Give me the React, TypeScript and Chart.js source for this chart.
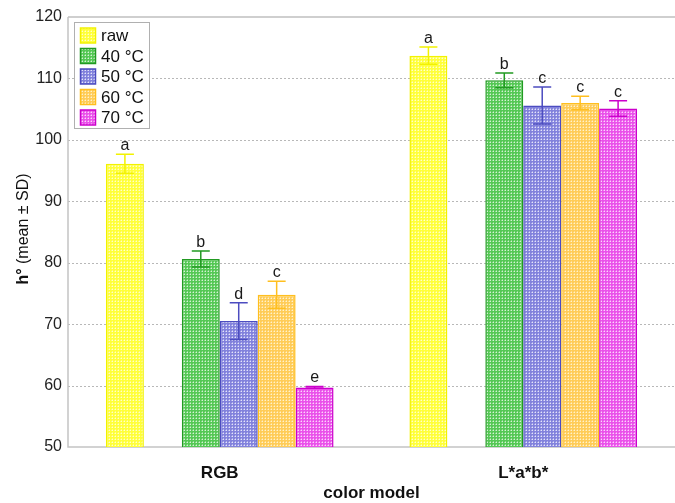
import React, { useEffect, useRef } from "react";
import { Chart, registerables } from "chart.js";

Chart.register(...registerables);

const categories = ["RGB", "L*a*b*"];
const seriesNames = ["raw", "40 °C", "50 °C", "60 °C", "70 °C"];
const rawValues = [96.1, 113.7];
const c40Values = [80.6, 109.7];
const c50Values = [70.5, 105.6];
const c60Values = [74.8, 106.0];
const c70Values = [59.7, 105.1];
const rawSD = [1.55, 1.4];
const c40SD = [1.3, 1.2];
const c50SD = [3.0, 3.0];
const c60SD = [2.2, 1.1];
const c70SD = [0.15, 1.25];
const rawLetters = ["a", "a"];
const c40Letters = ["b", "b"];
const c50Letters = ["d", "c"];
const c60Letters = ["c", "c"];
const c70Letters = ["e", "c"];
const yTicks = [50, 60, 70, 80, 90, 100, 110, 120];

const FONT = "'Liberation Sans', Arial, sans-serif";

const styles = [
  { border: "#f2f200", base: "#ffff3a", light: "#ffffc8" },
  { border: "#229a22", base: "#55c855", light: "#d4f2d4" },
  { border: "#4c4cc0", base: "#8282dc", light: "#e4e4fa" },
  { border: "#ffbf1f", base: "#ffcc58", light: "#fff2cc" },
  { border: "#cc00cc", base: "#ea52ea", light: "#fcd4fc" },
];

function makePattern(base: string, light: string) {
  const c = document.createElement("canvas");
  c.width = 3;
  c.height = 3;
  const x = c.getContext("2d")!;
  x.fillStyle = base;
  x.fillRect(0, 0, 3, 3);
  x.fillStyle = light;
  x.fillRect(1, 1, 1, 1);
  x.globalAlpha = 0.45;
  x.fillRect(0, 1, 1, 1);
  x.fillRect(1, 0, 1, 1);
  const ctx = document.createElement("canvas").getContext("2d")!;
  return ctx.createPattern(c, "repeat")!;
}

export default function App() {
  const ref = useRef<HTMLCanvasElement>(null);
  useEffect(() => {
    document.body.style.margin = "0";
    const values = [rawValues, c40Values, c50Values, c60Values, c70Values];
    const sds = [rawSD, c40SD, c50SD, c60SD, c70SD];
    const letters = [rawLetters, c40Letters, c50Letters, c60Letters, c70Letters];
    const patterns = styles.map((s) => makePattern(s.base, s.light));

    const datasets: any[] = [];
    const seriesIndex: number[] = [];
    seriesNames.forEach((name, i) => {
      datasets.push({
        label: name,
        data: values[i],
        backgroundColor: patterns[i],
        borderColor: styles[i].border,
        borderWidth: 1.5,
        borderSkipped: "bottom",
      });
      seriesIndex.push(datasets.length - 1);
      if (i === 0) {
        datasets.push({ label: "", data: categories.map(() => null), backgroundColor: "transparent" });
      }
    });

    const decorPlugin = {
      id: "decor",
      beforeDatasetsDraw(chart: any) {
        const { ctx, chartArea, scales } = chart;
        const y = scales.y;
        ctx.save();
        ctx.strokeStyle = "#b8b8b8";
        ctx.lineWidth = 1;
        ctx.setLineDash([2, 2]);
        yTicks.forEach((v) => {
          if (v === 50 || v === 120) return;
          const py = Math.round(y.getPixelForValue(v)) + 0.5;
          ctx.beginPath();
          ctx.moveTo(chartArea.left, py);
          ctx.lineTo(chartArea.right, py);
          ctx.stroke();
        });
        ctx.setLineDash([]);
        ctx.strokeStyle = "#cfcfcf";
        ctx.lineWidth = 2;
        const ty = y.getPixelForValue(120);
        ctx.beginPath();
        ctx.moveTo(chartArea.left, ty);
        ctx.lineTo(chartArea.right, ty);
        ctx.stroke();
        ctx.strokeStyle = "#c4c4c4";
        ctx.lineWidth = 1.5;
        ctx.beginPath();
        ctx.moveTo(chartArea.left, ty);
        ctx.lineTo(chartArea.left, chartArea.bottom);
        ctx.lineTo(chartArea.right, chartArea.bottom);
        ctx.stroke();
        ctx.restore();
      },
      afterDatasetsDraw(chart: any) {
        const { ctx, chartArea, scales } = chart;
        const y = scales.y;
        ctx.save();
        seriesNames.forEach((_, si) => {
          const meta = chart.getDatasetMeta(seriesIndex[si]);
          meta.data.forEach((bar: any, ci: number) => {
            const v = values[si][ci];
            const sd = sds[si][ci];
            const top = y.getPixelForValue(v + sd);
            const bot = y.getPixelForValue(v - sd);
            ctx.strokeStyle = styles[si].border;
            ctx.lineWidth = 1.5;
            ctx.beginPath();
            ctx.moveTo(bar.x, top);
            ctx.lineTo(bar.x, bot);
            ctx.moveTo(bar.x - 9, top);
            ctx.lineTo(bar.x + 9, top);
            ctx.moveTo(bar.x - 9, bot);
            ctx.lineTo(bar.x + 9, bot);
            ctx.stroke();
            ctx.fillStyle = "#1a1a1a";
            ctx.font = `16px ${FONT}`;
            ctx.textAlign = "center";
            ctx.textBaseline = "alphabetic";
            ctx.fillText(letters[si][ci], bar.x, top - 4);
          });
        });
        // legend
        const lx = 74, ly = 22, lw = 75, lh = 106;
        ctx.fillStyle = "#ffffff";
        ctx.fillRect(lx, ly, lw, lh);
        ctx.strokeStyle = "#b0b0b0";
        ctx.lineWidth = 1;
        ctx.strokeRect(lx + 0.5, ly + 0.5, lw, lh);
        seriesNames.forEach((name, si) => {
          const cy = 35.5 + si * 20.5;
          ctx.fillStyle = patterns[si];
          ctx.fillRect(80.5, cy - 7.5, 15, 15);
          ctx.strokeStyle = styles[si].border;
          ctx.lineWidth = 1.5;
          ctx.strokeRect(80.5, cy - 7.5, 15, 15);
          ctx.fillStyle = "#111";
          ctx.font = `17px ${FONT}`;
          ctx.textAlign = "left";
          ctx.textBaseline = "middle";
          ctx.fillText(name, 101, cy + 1);
        });
        // axis titles
        ctx.fillStyle = "#111";
        ctx.font = `bold 17px ${FONT}`;
        ctx.textAlign = "center";
        ctx.textBaseline = "middle";
        ctx.fillText("color model", (chartArea.left + chartArea.right) / 2, 493);
        ctx.translate(24, (chartArea.top + chartArea.bottom) / 2 - 3);
        ctx.rotate(-Math.PI / 2);
        ctx.font = `bold 16px ${FONT}`;
        const p1 = "h°";
        const p2 = " (mean ± SD)";
        const w1 = ctx.measureText(p1).width;
        ctx.font = `16px ${FONT}`;
        const w2 = ctx.measureText(p2).width;
        const start = -(w1 + w2) / 2;
        ctx.textAlign = "left";
        ctx.font = `bold 16px ${FONT}`;
        ctx.fillText(p1, start, 0);
        ctx.font = `16px ${FONT}`;
        ctx.fillText(p2, start + w1, 0);
        ctx.restore();
      },
    };

    const chart = new Chart(ref.current!, {
      type: "bar",
      data: { labels: categories, datasets },
      options: {
        responsive: false,
        animation: false,
        layout: { padding: { top: 17, right: 0, left: 0, bottom: 0 } },
        plugins: { legend: { display: false }, tooltip: { enabled: false } },
        datasets: { bar: { categoryPercentage: 0.75, barPercentage: 1 } },
        scales: {
          x: {
            grid: { display: false },
            border: { display: false },
            ticks: { color: "#111", font: { family: FONT, size: 17, weight: "bold" }, padding: 8 },
            afterFit(scale: any) {
              scale.height = 56;
            },
          },
          y: {
            min: 50,
            max: 120,
            grid: { display: false, drawTicks: false },
            border: { display: false },
            ticks: { stepSize: 10, color: "#222", font: { family: FONT, size: 16 }, padding: 6 },
            afterFit(scale: any) {
              scale.width = 68;
            },
          },
        },
      },
      plugins: [decorPlugin],
    });
    return () => chart.destroy();
  }, []);
  return (
    <div style={{ width: 675, height: 503 }}>
      <canvas ref={ref} width={675} height={503} style={{ display: "block" }} />
    </div>
  );
}
